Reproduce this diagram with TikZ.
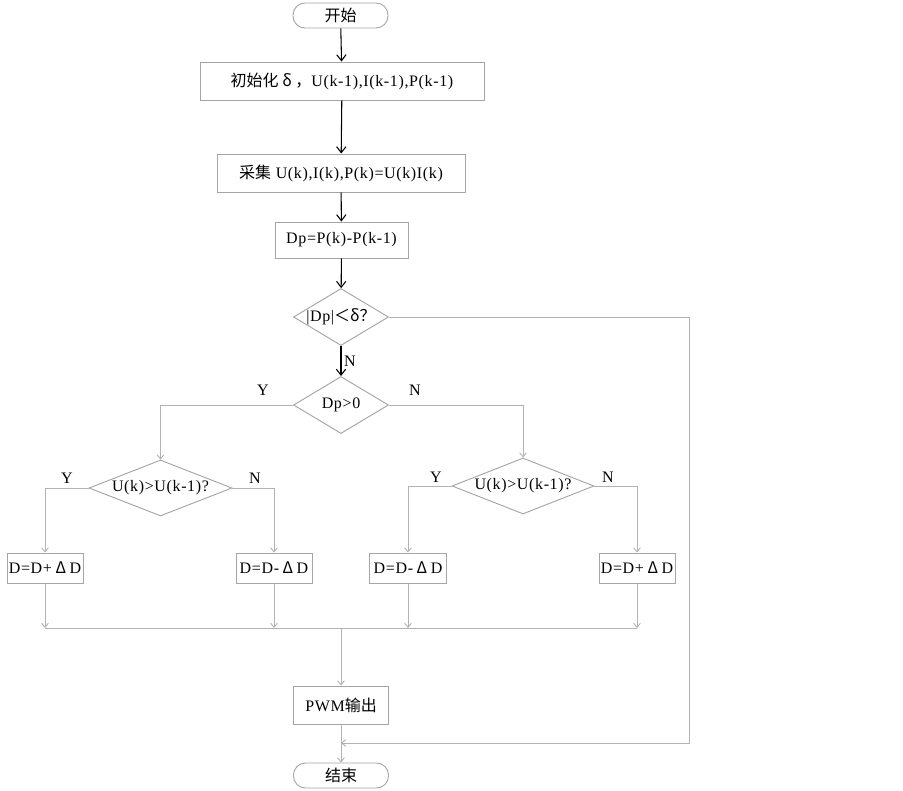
\documentclass[tikz,border=0pt]{standalone}
\usepackage{fontspec}
\setmainfont{Liberation Serif}[LetterSpace=4]
\newfontfamily\cjk{Noto Sans CJK SC}
\usetikzlibrary{shapes.geometric,arrows.meta}
\definecolor{lgray}{RGB}{178,178,178}
\definecolor{bgray}{RGB}{165,165,165}
\begin{document}
\begin{tikzpicture}[x=0.75pt,y=-0.75pt,
  font=\fontsize{12pt}{14pt}\selectfont,
  sz/.style 2 args={minimum width=#1*0.75pt, minimum height=#2*0.75pt},
  stepbox/.style={draw=bgray, line width=0.7pt, rectangle, inner sep=0pt},
  term/.style={stepbox, rounded corners=9pt},
  dec/.style={draw=bgray, line width=0.7pt, diamond, inner sep=0pt, aspect=1},
  blk/.style={draw=black, line width=0.8pt, -{Straight Barb[length=4.5pt,width=7pt]}},
  gry/.style={draw=lgray, line width=0.7pt},
  gryarr/.style={gry, -{Straight Barb[length=3pt,width=5pt]}},
  lbl/.style={inner sep=0pt}]
\useasboundingbox (0,0) rectangle (903,791);
% nodes
\node[term, sz={95}{25}] (start) at (340.5,15.5) {\cjk 开始};
\node[stepbox, sz={284}{38}] (init) at (342,81) {{\cjk 初始化 δ ，}U(k-1),I(k-1),P(k-1)};
\node[stepbox, sz={248}{38}] (collect) at (341,173) {{\cjk 采集} U(k),I(k),P(k)=U(k)I(k)};
\node[stepbox, sz={133}{36}] (dp) at (341.5,240) {Dp=P(k)-P(k-1)};
\node[dec, sz={95}{57}] (d1) at (341,317) {\makebox[0pt]{|Dp|{\cjk ＜δ？}}};
\node[dec, sz={95}{57}] (d2) at (341,405) {\makebox[0pt]{Dp>0}};
\node[dec, sz={143}{56}] (d3) at (160.5,488) {\makebox[0pt]{U(k)>U(k-1)?}};
\node[dec, sz={142}{56}] (d4) at (523,486) {\makebox[0pt]{U(k)>U(k-1)?}};
\node[stepbox, sz={76}{30}] (b1) at (45,568) {D=D+{\cjk\ Δ\ }D};
\node[stepbox, sz={76}{30}] (b2) at (274,568) {D=D-{\cjk\ Δ\ }D};
\node[stepbox, sz={77}{30}] (b3) at (408,568) {D=D-{\cjk\ Δ\ }D};
\node[stepbox, sz={76}{30}] (b4) at (637,568) {D=D+{\cjk\ Δ\ }D};
\node[stepbox, sz={95}{38}] (pwm) at (341,705) {PWM{\cjk 输出}};
\node[term, sz={95}{25}] (end) at (341,775.5) {\cjk 结束};
% labels
\node[lbl] (lN1) at (350,361) {N};
\node[lbl] (lY2) at (263,390) {Y};
\node[lbl] (lN2) at (415,390) {N};
\node[lbl] (lY3) at (67,478) {Y};
\node[lbl] (lN3) at (255,478) {N};
\node[lbl] (lY4) at (436,477) {Y};
\node[lbl] (lN4) at (608,477) {N};
% coordinates
\coordinate (mL) at (45,628);
\coordinate (mR) at (637,628);
\coordinate (ret) at (689,743);
% connectors
\draw[blk] (start) -- (init);
\draw[blk] (init) -- (collect);
\draw[blk] (collect) -- (dp);
\draw[blk] (dp) -- (d1);
\draw[blk] (d1) -- (d2);
\draw[gryarr] (d2.west) -| (d3.north);
\draw[gryarr] (d2.east) -| (d4.north);
\draw[gryarr] (d3.west) -| (b1.north);
\draw[gryarr] (d3.east) -| (b2.north);
\draw[gryarr] (d4.west) -| (b3.north);
\draw[gryarr] (d4.east) -| (b4.north);
\draw[gry] (mL) -- (mR);
\draw[gryarr] (b1.south) -- (b1.south |- mL);
\draw[gryarr] (b2.south) -- (b2.south |- mL);
\draw[gryarr] (b3.south) -- (b3.south |- mL);
\draw[gryarr] (b4.south) -- (b4.south |- mL);
\draw[gryarr] (pwm.north |- mL) -- (pwm.north);
\draw[gryarr] (pwm.south) -- (end.north);
\draw[gryarr] (d1.east) -- (d1.east -| ret) -- (ret) -- (ret -| pwm.south);
\end{tikzpicture}
\end{document}
